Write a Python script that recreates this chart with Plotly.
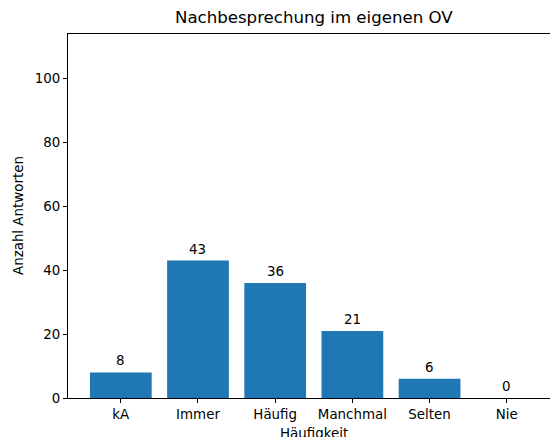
import plotly.graph_objects as go

categories = ["kA", "Immer", "Häufig", "Manchmal", "Selten", "Nie"]
values = [8, 43, 36, 21, 6, 0]
y_ticks = [0, 20, 40, 60, 80, 100]

title_text = "Nachbesprechung im eigenen OV"
x_title = "Häufigkeit"
y_title = "Anzahl Antworten"

FONT = "DejaVu Sans"
BAR = "#1f77b4"
FS = 13.4
TFS = 16.6

fig = go.Figure()
fig.add_trace(go.Bar(x=categories, y=values, width=0.8, marker=dict(color=BAR, line=dict(width=0)),
                     hoverinfo="skip"))

for c, v in zip(categories, values):
    fig.add_annotation(x=c, y=v, xref="x", yref="y", text=str(v), showarrow=False,
                       yanchor="bottom", yshift=2, font=dict(family=FONT, size=FS, color="#000"))

# title, axis titles
fig.add_annotation(x=2.5, xref="x", y=1, yref="paper", text=title_text, showarrow=False,
                   yanchor="bottom", yshift=5, font=dict(family=FONT, size=TFS, color="#000"))
fig.add_annotation(x=2.5, xref="x", y=0, yref="paper", text=x_title, showarrow=False,
                   yanchor="top", yshift=-26, font=dict(family=FONT, size=FS, color="#000"))
fig.add_annotation(x=0, xref="paper", xshift=-50, y=0.5, yref="paper", text=y_title, showarrow=False,
                   textangle=-90, xanchor="center", font=dict(family=FONT, size=FS, color="#000"))

fig.update_layout(
    width=550, height=437,
    margin=dict(l=68, r=0, t=34, b=39, pad=0),
    paper_bgcolor="white", plot_bgcolor="white",
    showlegend=False,
    font=dict(family=FONT, size=FS, color="#000"),
    xaxis=dict(range=[-0.684, 5.56], showgrid=False, zeroline=False,
               showline=True, linecolor="#000", linewidth=1, mirror=True,
               ticks="outside", ticklen=4, tickcolor="#000", tickwidth=1,
               tickfont=dict(family=FONT, size=FS, color="#000")),
    yaxis=dict(range=[0, 113.9], tickvals=y_ticks, showgrid=False, zeroline=False,
               showline=True, linecolor="#000", linewidth=1,
               ticks="outside", ticklen=4, tickcolor="#000", tickwidth=1,
               tickfont=dict(family=FONT, size=FS, color="#000")),
)

fig.write_html("out.html", config={"displayModeBar": False},
               post_script="document.body.style.margin='0';document.body.style.overflow='hidden';")
